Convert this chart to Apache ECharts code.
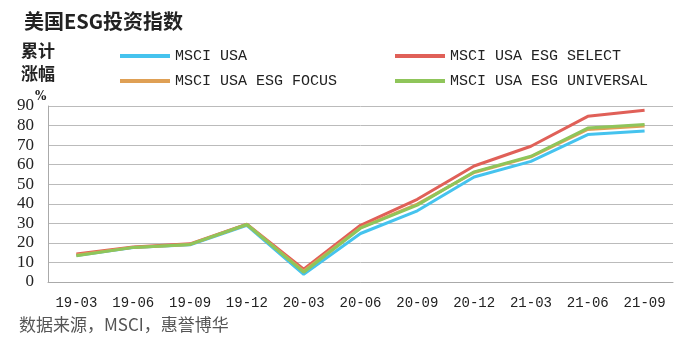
<!DOCTYPE html>
<html>
<head>
<meta charset="utf-8">
<script src="https://cdn.jsdelivr.net/npm/echarts@6/dist/echarts.min.js"></script>
<style>
  html, body { margin: 0; padding: 0; background: #fff; }
  #main { width: 698px; height: 351px; }
</style>
</head>
<body>
<div id="main"></div>
<script>
// 季度
var categories = ['19-03', '19-06', '19-09', '19-12', '20-03', '20-06', '20-09', '20-12', '21-03', '21-06', '21-09'];
// 累计涨幅 (%)
var msciUsa       = [13.6, 17.6, 19.0, 29.0, 3.9, 24.8, 36.4, 53.7, 61.7, 75.4, 77.2];
var esgSelect     = [14.3, 17.9, 19.5, 29.6, 6.6, 29.0, 42.3, 59.3, 69.4, 84.7, 87.8];
var esgFocus      = [13.8, 17.7, 19.2, 29.4, 5.6, 27.8, 39.8, 56.0, 64.0, 78.0, 79.8];
var esgUniversal  = [13.4, 17.7, 19.2, 29.4, 5.0, 27.5, 39.3, 56.3, 64.3, 78.7, 80.5];
var yTicks = [0, 10, 20, 30, 40, 50, 60, 70, 80, 90];

var monoFont = 'Liberation Mono';
var myChart = echarts.init(document.getElementById('main'));
myChart.setOption({
    animation: false,
    title: {
        text: '美国ESG投资指数',
        left: 19,
        top: 6,
        textStyle: {fontFamily: 'Noto Sans CJK SC', fontSize: 20, fontWeight: 'bold', color: '#222'}
    },
    legend: [
        {
            orient: 'vertical',
            left: 115,
            top: 43,
            itemWidth: 50,
            itemHeight: 4,
            itemGap: 9,
            icon: 'rect',
            data: ['MSCI USA', 'MSCI USA ESG FOCUS'],
            textStyle: {fontFamily: monoFont, fontSize: 15, lineHeight: 16, color: '#222'}
        },
        {
            orient: 'vertical',
            left: 390,
            top: 43,
            itemWidth: 50,
            itemHeight: 4,
            itemGap: 9,
            icon: 'rect',
            data: ['MSCI USA ESG SELECT', 'MSCI USA ESG UNIVERSAL'],
            textStyle: {fontFamily: monoFont, fontSize: 15, lineHeight: 16, color: '#222'}
        }
    ],
    graphic: [
        {type: 'text', left: 21, top: 42, style: {text: '累计', font: 'bold 17px "Noto Sans CJK SC"', fill: '#222'}},
        {type: 'text', left: 21, top: 65, style: {text: '涨幅', font: 'bold 17px "Noto Sans CJK SC"', fill: '#222'}},
        {type: 'text', left: 35, top: 91, style: {text: '%', font: 'bold 12px "DejaVu Serif"', fill: '#222'}},
        {type: 'text', left: 19, top: 316, style: {text: '数据来源，MSCI，惠誉博华', font: '17px "Noto Sans CJK SC"', fill: '#555'}}
    ],
    grid: {left: 48, right: 25, top: 106, bottom: 69},
    xAxis: {
        type: 'category',
        data: categories,
        boundaryGap: true,
        axisLine: {lineStyle: {color: '#aaa'}},
        axisTick: {show: false},
        axisLabel: {interval: 0, fontFamily: monoFont, fontSize: 14, color: '#222', margin: 14}
    },
    yAxis: {
        type: 'value',
        min: yTicks[0],
        max: yTicks[yTicks.length - 1],
        interval: 10,
        axisLine: {show: true, lineStyle: {color: '#aaa'}},
        axisTick: {show: false},
        axisLabel: {fontFamily: '"Liberation Serif", serif', fontSize: 17, color: '#222', margin: 14},
        splitLine: {lineStyle: {color: '#bbb'}}
    },
    series: [
        {name: 'MSCI USA', type: 'line', data: msciUsa, symbol: 'none', color: '#45c3ee', lineStyle: {width: 3}},
        {name: 'MSCI USA ESG SELECT', type: 'line', data: esgSelect, symbol: 'none', color: '#e06058', lineStyle: {width: 3}},
        {name: 'MSCI USA ESG FOCUS', type: 'line', data: esgFocus, symbol: 'none', color: '#dfa055', lineStyle: {width: 3}},
        {name: 'MSCI USA ESG UNIVERSAL', type: 'line', data: esgUniversal, symbol: 'none', color: '#8fc55a', lineStyle: {width: 3}}
    ]
});
</script>
</body>
</html>
